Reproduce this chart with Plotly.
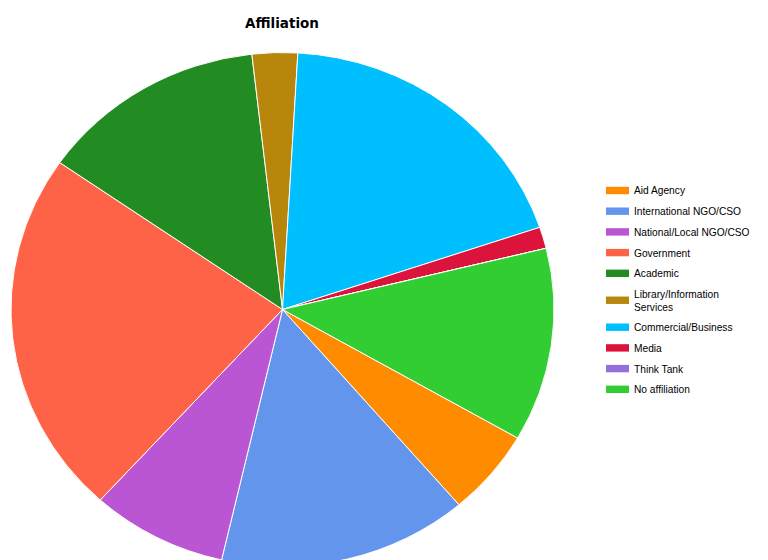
import plotly.graph_objects as go

# Respondent affiliation counts
categories = [
    "Aid Agency",
    "International NGO/CSO",
    "National/Local NGO/CSO",
    "Government",
    "Academic",
    "Library/Information<br>Services",
    "Commercial/Business",
    "Media",
    "Think Tank",
    "No affiliation",
]
counts = [4, 11, 6, 17, 10, 2, 14, 1, 0, 9]
colors = [
    "#FF8C00", "#6495ED", "#BA55D3", "#FF6347", "#228B22",
    "#B8860B", "#00BFFF", "#DC143C", "#9370DB", "#32CD32",
]

# Canvas geometry (pixels)
W, H = 768, 620
ML, MR, MT, MB = 11, 0, 38, 39
plot_w = W - ML - MR
plot_h = H - MT - MB
diameter = plot_h
center_y = MT + diameter / 2
squash = 257 / 271.5  # vertical flattening of the pie


def px_x(px):
    return (px - ML) / plot_w


def px_y(py):
    return (H - MB - py) / plot_h


fig = go.Figure(
    go.Pie(
        labels=categories,
        values=counts,
        marker=dict(colors=colors, line=dict(color="white", width=1)),
        sort=False,
        direction="clockwise",
        rotation=120,
        textinfo="none",
        hoverinfo="label+value+percent",
        domain=dict(x=[0, diameter / plot_w], y=[0, 1]),
        showlegend=False,
    )
)

# Legend: wide colour swatch followed by the category name
shapes = []
annotations = []
item_h, extra_line = 20.7, 12.5
top = 180.15
for name, col in zip(categories, colors):
    lines = name.count("<br>") + 1
    h = item_h + extra_line * (lines - 1)
    cy = top + h / 2
    shapes.append(dict(
        type="rect", xref="paper", yref="paper",
        x0=px_x(606), x1=px_x(629), y0=px_y(cy - 3.7), y1=px_y(cy + 3.7),
        fillcolor=col, line=dict(width=0),
    ))
    annotations.append(dict(
        text=name, xref="paper", yref="paper",
        x=px_x(632), y=px_y(cy + 0.5), xanchor="left", yanchor="middle",
        align="left", showarrow=False,
        font=dict(family="Liberation Sans", size=10.2, color="black"),
    ))
    top += h

fig.update_layout(
    width=W,
    height=H,
    margin=dict(l=ML, r=MR, t=MT, b=MB),
    paper_bgcolor="white",
    plot_bgcolor="white",
    title=dict(
        text="<b>Affiliation</b>",
        font=dict(family="DejaVu Sans", size=13.5, color="black"),
        x=282 / W,
        xanchor="center",
        xref="container",
        y=1 - 23 / H,
        yanchor="middle",
        yref="container",
    ),
    shapes=shapes,
    annotations=annotations,
    showlegend=False,
)

post = (
    "document.body.style.overflow='hidden';document.body.style.margin='0';"
    "var gd=document.getElementById('{plot_id}');"
    "var layer=gd.querySelector('.pielayer');"
    "if(layer){layer.setAttribute('transform','matrix(1 0 0 %f 0 %f)');}"
    % (squash, center_y * (1 - squash))
)

fig.write_html("out.html", post_script=post)
